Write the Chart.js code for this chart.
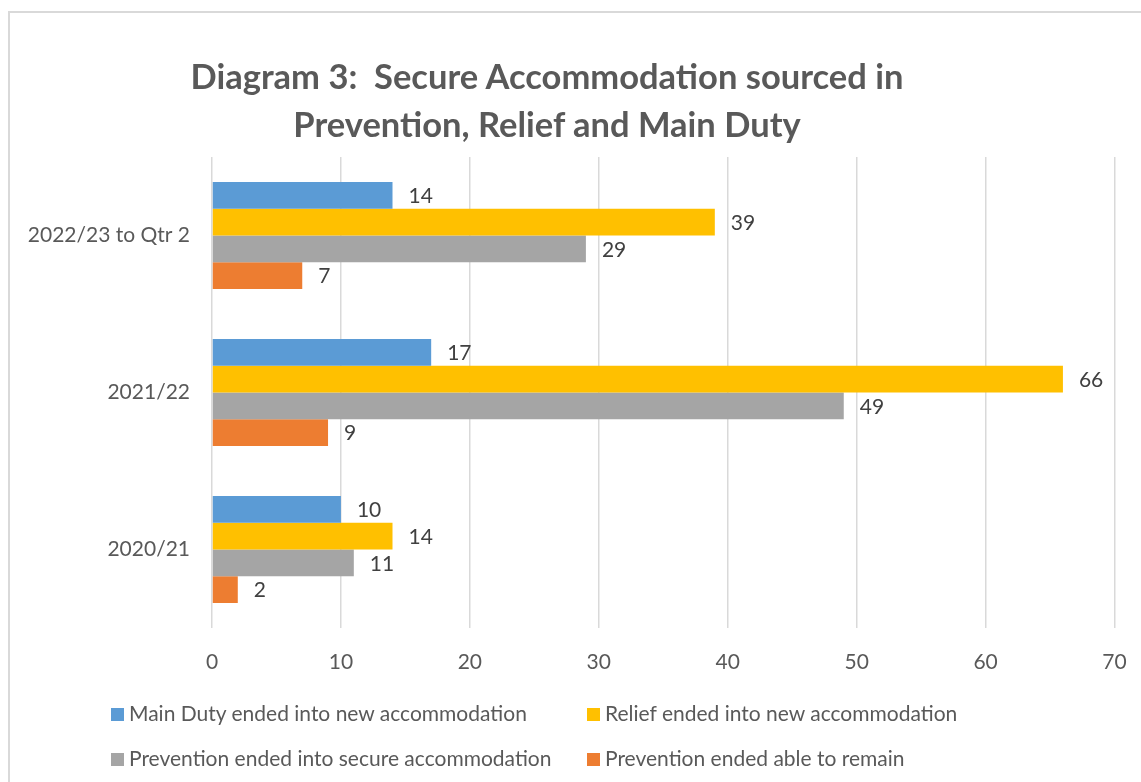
<!DOCTYPE html>
<html lang="en">
<head>
  <meta charset="UTF-8" />
  <title>Diagram 3: Secure Accommodation sourced</title>
  <script src="https://cdn.jsdelivr.net/npm/chart.js"></script>
  <style>
    body { margin: 0; background: #fff; font-family: 'Lato', sans-serif; overflow: hidden; }
    .frame {
      position: absolute; left: 8px; top: 11px; width: 1160px; height: 800px;
      border: 2px solid #d9d9d9; box-sizing: border-box;
    }
    .wrap { position: absolute; left: 0; top: 0; width: 1141px; height: 782px; }
    .title {
      position: absolute; left: 97px; width: 900px; top: 52px; text-align: center;
      font-weight: bold; font-size: 34.5px; line-height: 48px; color: #595959;
    }
    .legend { position: absolute; left: 0; top: 0; font-size: 21px; color: #595959; }
    .legend .item { position: absolute; white-space: nowrap; line-height: 24px; }
    .legend .box { display: inline-block; width: 13px; height: 13px; margin-right: 5px; vertical-align: 0px; }
  </style>
</head>
<body>
  <div class="frame"></div>
  <div class="wrap"><canvas id="chart" width="1141" height="782"></canvas></div>
  <div class="title">Diagram 3:&nbsp; Secure Accommodation sourced in<br>Prevention, Relief and Main Duty</div>
  <div class="legend" id="legend"></div>

  <script>
    const years = ['2022/23 to Qtr 2', '2021/22', '2020/21'];
    const seriesNames = [
      'Main Duty ended into new accommodation',
      'Relief ended into new accommodation',
      'Prevention ended into secure accommodation',
      'Prevention ended able to remain'
    ];
    const mainDuty = [14, 17, 10];
    const relief = [39, 66, 14];
    const preventionSecure = [29, 49, 11];
    const preventionRemain = [7, 9, 2];
    const colours = ['#5B9BD5', '#FFC000', '#A5A5A5', '#ED7D31'];

    // value labels just right of each bar
    const barLabels = {
      id: 'barLabels',
      afterDatasetsDraw(chart) {
        const ctx = chart.ctx;
        ctx.save();
        ctx.font = '21px Lato';
        ctx.fillStyle = '#404040';
        ctx.textBaseline = 'middle';
        chart.data.datasets.forEach((ds, i) => {
          chart.getDatasetMeta(i).data.forEach((bar, j) => {
            ctx.fillText(ds.data[j], bar.x + 16, bar.y + 1);
          });
        });
        ctx.restore();
      }
    };

    const allSeries = [mainDuty, relief, preventionSecure, preventionRemain];

    new Chart(document.getElementById('chart'), {
      type: 'bar',
      data: {
        labels: years,
        datasets: allSeries.map((vals, i) => ({
          label: seriesNames[i],
          data: vals,
          backgroundColor: colours[i],
          categoryPercentage: 0.68,
          barPercentage: 1.0
        }))
      },
      options: {
        indexAxis: 'y',
        responsive: false,
        animation: false,
        layout: { padding: { left: 0, top: 157, right: 0, bottom: 104 } },
        plugins: { legend: { display: false }, tooltip: { enabled: false } },
        scales: {
          x: {
            min: 0, max: 70,
            ticks: { stepSize: 10, color: '#595959', font: { family: 'Lato', size: 21 }, padding: 22 },
            grid: { color: '#d9d9d9', lineWidth: 1.5, drawTicks: false },
            border: { display: false },
            afterFit(scale) { scale.height = 50; scale.paddingRight = 26.5; }
          },
          y: {
            ticks: { color: '#595959', font: { family: 'Lato', size: 21 }, padding: 22 },
            grid: { display: false, drawTicks: false },
            border: { display: false },
            afterFit(scale) { scale.width = 212; }
          }
        }
      },
      plugins: [barLabels]
    });

    // legend laid out in two columns like the original
    const legend = document.getElementById('legend');
    const spots = [[111, 701], [587, 701], [111, 746], [587, 746]];
    seriesNames.forEach((name, i) => {
      const el = document.createElement('div');
      el.className = 'item';
      el.style.left = spots[i][0] + 'px';
      el.style.top = spots[i][1] + 'px';
      el.innerHTML = '<span class="box" style="background:' + colours[i] + '"></span>' + name;
      legend.appendChild(el);
    });
  </script>
</body>
</html>
